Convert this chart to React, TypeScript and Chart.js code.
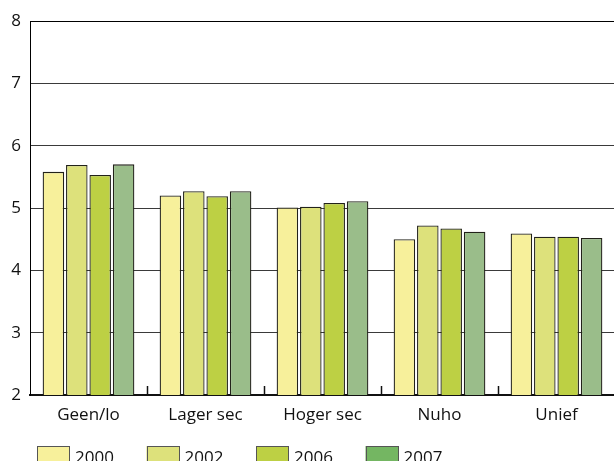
import React, { useEffect, useRef } from "react";
import { Chart, registerables } from "chart.js";

Chart.register(...registerables);

const categories = ["Geen/lo", "Lager sec", "Hoger sec", "Nuho", "Unief"];
const seriesLabels = ["2000", "2002", "2006", "2007"];
const values2000 = [5.58, 5.2, 5.01, 4.5, 4.59];
const values2002 = [5.69, 5.27, 5.02, 4.72, 4.54];
const values2006 = [5.53, 5.19, 5.08, 4.67, 4.54];
const values2007 = [5.7, 5.27, 5.11, 4.62, 4.52];
const yTicks = [2, 3, 4, 5, 6, 7, 8];

const barColors = ["#F7F09B", "#DDE17B", "#BDD044", "#9ABD8A"];
const legendColors = ["#F7F09B", "#DDE17B", "#BDD044", "#74B662"];
const FONT = "'Open Sans'";

const innerTicks = {
  id: "innerTicks",
  afterDatasetsDraw(chart: any) {
    const x = chart.scales.x;
    const { ctx, chartArea } = chart;
    ctx.save();
    ctx.strokeStyle = "#111";
    ctx.lineWidth = 1.5;
    for (let i = 1; i <= categories.length; i++) {
      const px =
        i < categories.length
          ? (x.getPixelForValue(i - 1) + x.getPixelForValue(i)) / 2
          : chartArea.right;
      ctx.beginPath();
      ctx.moveTo(Math.round(px) + 0.5, chartArea.bottom);
      ctx.lineTo(Math.round(px) + 0.5, chartArea.bottom - 9);
      ctx.stroke();
    }
    ctx.restore();
  },
};

const bottomLegend = {
  id: "bottomLegend",
  afterDraw(chart: any) {
    const { ctx } = chart;
    ctx.save();
    ctx.font = `17px ${FONT}`;
    ctx.textBaseline = "middle";
    ctx.textAlign = "left";
    const top = 446;
    const boxW = 33;
    const boxH = 16;
    chart.data.datasets.forEach((ds: any, i: number) => {
      const x = 37 + i * 109.5;
      ctx.fillStyle = legendColors[i];
      ctx.fillRect(x, top, boxW, boxH);
      ctx.strokeStyle = "#555";
      ctx.lineWidth = 1;
      ctx.strokeRect(Math.round(x) + 0.5, top + 0.5, boxW - 1, boxH - 1);
      ctx.fillStyle = "#111";
      ctx.fillText(ds.label, x + boxW + 5, top + 12);
    });
    ctx.restore();
  },
};

export default function App() {
  const ref = useRef<HTMLCanvasElement>(null);
  useEffect(() => {
    if (!ref.current) return;
    const all = [values2000, values2002, values2006, values2007];
    const chart = new Chart(ref.current, {
      type: "bar",
      data: {
        labels: categories,
        datasets: all.map((d, i) => ({
          label: seriesLabels[i],
          data: d,
          backgroundColor: barColors[i],
          borderColor: "#22221a",
          borderWidth: 1.3,
          borderSkipped: "bottom",
          categoryPercentage: 0.8,
          barPercentage: 0.92,
        })),
      },
      options: {
        animation: false,
        responsive: false,
        devicePixelRatio: 1,
        layout: { padding: { left: 4, right: 5, top: 21, bottom: 46 } },
        plugins: {
          tooltip: { enabled: false },
          legend: { display: false },
        },
        scales: {
          x: {
            offset: true,
            grid: { display: false, drawTicks: false },
            border: { color: "#111", width: 2 },
            ticks: {
              color: "#111",
              padding: 10,
              font: { family: FONT, size: 17 },
            },
            afterFit(s: any) {
              s.height = 31;
            },
          },
          y: {
            min: 2,
            max: 8,
            afterBuildTicks(s: any) {
              s.ticks = yTicks.map((v) => ({ value: v }));
            },
            grid: {
              drawTicks: false,
              color: (c: any) => (c.tick && c.tick.value === 8 ? "#000" : "#3a3a3a"),
              lineWidth: 1,
            },
            border: { color: "#000", width: 1 },
            ticks: {
              color: "#111",
              padding: 9,
              font: { family: FONT, size: 17 },
            },
            afterFit(s: any) {
              s.width = 26;
            },
          },
        },
      },
      plugins: [innerTicks, bottomLegend],
    });
    return () => chart.destroy();
  }, []);
  return (
    <div style={{ position: "absolute", left: 0, top: 0, width: 620, height: 472 }}>
      <canvas ref={ref} width={620} height={472} />
    </div>
  );
}
